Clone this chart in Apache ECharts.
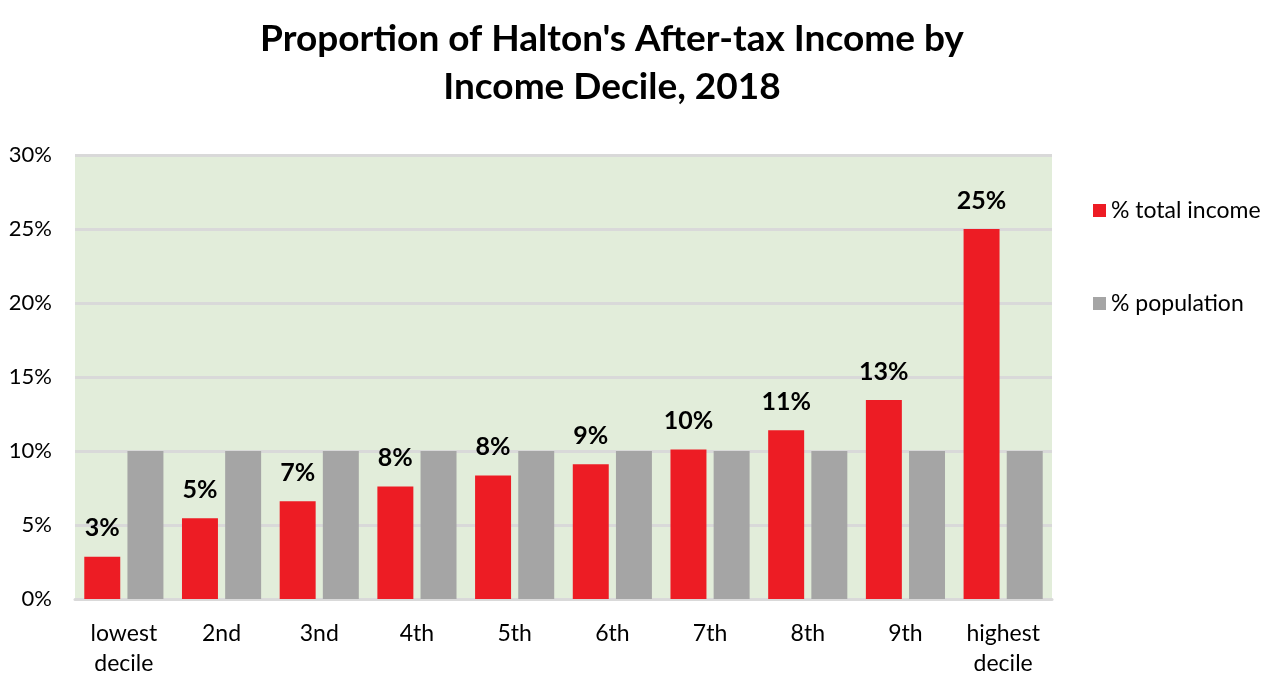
<!DOCTYPE html>
<html>
<head>
<meta charset="utf-8">
<script src="https://cdn.jsdelivr.net/npm/echarts@6/dist/echarts.min.js"></script>
<style>
  html, body { margin: 0; padding: 0; background: #fff; }
  #chart { width: 1284px; height: 685px; }
</style>
</head>
<body>
<div id="chart"></div>
<script>
// categories (deciles)
var categories = ['lowest\ndecile', '2nd', '3nd', '4th', '5th', '6th', '7th', '8th', '9th', 'highest\ndecile'];
// share of total after-tax income, %
var totalIncome = [2.85, 5.45, 6.6, 7.6, 8.35, 9.1, 10.1, 11.4, 13.45, 25.0];
// share of population, %
var population = [10, 10, 10, 10, 10, 10, 10, 10, 10, 10];

var fontName = 'Lato';

var chart = echarts.init(document.getElementById('chart'));
chart.setOption({
  animation: false,
  textStyle: { fontFamily: fontName },
  title: {
    text: "Proportion of Halton's After-tax Income by\nIncome Decile, 2018",
    left: 607,
    top: 10,
    textAlign: 'center',
    textStyle: {
      fontFamily: fontName,
      fontSize: 37,
      fontWeight: 'bold',
      color: '#000',
      lineHeight: 48
    }
  },
  legend: {
    orient: 'vertical',
    left: 1088,
    top: 194,
    itemGap: 70,
    itemWidth: 13,
    itemHeight: 13,
    icon: 'rect',
    textStyle: { fontFamily: fontName, fontSize: 23, color: '#000' },
    data: ['% total income', '% population']
  },
  grid: {
    left: 75,
    right: 232,
    top: 155,
    bottom: 86,
    show: true,
    backgroundColor: '#e2edda',
    borderWidth: 0
  },
  xAxis: {
    type: 'category',
    data: categories,
    axisLine: { show: true, lineStyle: { color: '#d9d9d9', width: 3 } },
    axisTick: { show: false },
    axisLabel: {
      margin: 20,
      fontSize: 23,
      lineHeight: 30,
      color: '#000',
      fontFamily: fontName,
      interval: 0
    }
  },
  yAxis: {
    type: 'value',
    min: 0,
    max: 30,
    interval: 5,
    axisLine: { show: false },
    axisTick: { show: false },
    splitLine: { lineStyle: { color: '#d9d9d9', width: 3 } },
    axisLabel: {
      margin: 23,
      fontSize: 22,
      color: '#000',
      fontFamily: fontName,
      formatter: '{value}%'
    }
  },
  series: [
    {
      name: '% total income',
      type: 'bar',
      data: totalIncome,
      barGap: '20%',
      barCategoryGap: '19%',
      itemStyle: { color: '#ed1c24' },
      label: {
        show: true,
        position: 'top',
        distance: 16,
        fontSize: 25,
        fontWeight: 'bold',
        color: '#000',
        fontFamily: fontName,
        formatter: function (p) { return Math.round(p.value) + '%'; }
      }
    },
    {
      name: '% population',
      type: 'bar',
      data: population,
      itemStyle: { color: '#a5a5a5' }
    }
  ]
});
</script>
</body>
</html>
